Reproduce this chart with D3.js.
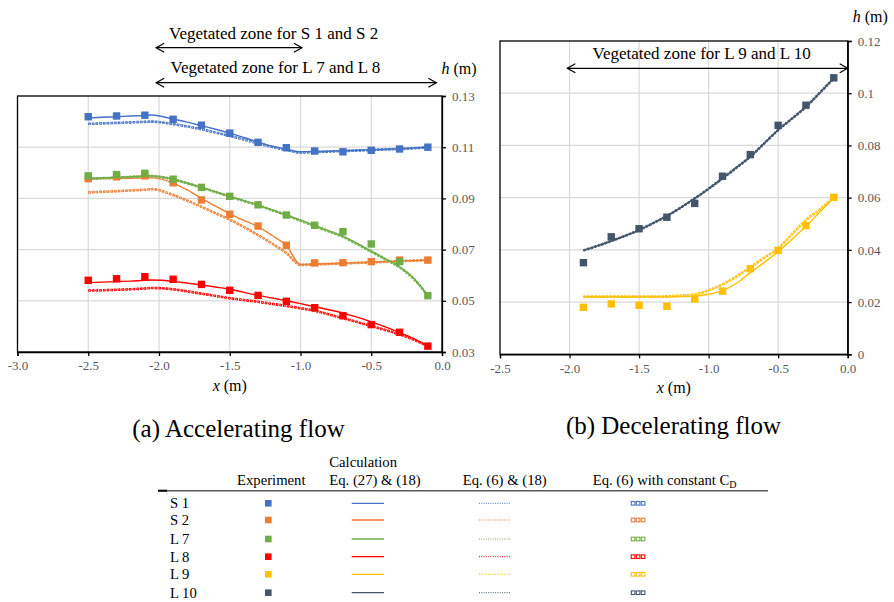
<!DOCTYPE html>
<html><head><meta charset="utf-8">
<script src="https://cdn.jsdelivr.net/npm/d3@7"></script>
<style>
html,body{margin:0;padding:0;background:#fff;}
svg text{font-family:"Liberation Serif","Times New Roman",serif;}
</style></head>
<body><svg id="c" width="894" height="602"></svg>
<script>
// ---------- DATA ----------
const seriesNames = ["S 1","S 2","L 7","L 8","L 9","L 10"];
const seriesColors = ["#4472C4","#ED7D31","#70AD47","#FF0000","#FFC000","#44546A"];

// (a) accelerating flow
const xTicksA = [-3.0,-2.5,-2.0,-1.5,-1.0,-0.5,0.0];
const yTicksA = [0.03,0.05,0.07,0.09,0.11,0.13];
const expXA = [-2.5,-2.3,-2.1,-1.9,-1.7,-1.5,-1.3,-1.1,-0.9,-0.7,-0.5,-0.3,-0.1];
const expS1 = [0.1219,0.1222,0.1225,0.1209,0.1186,0.1155,0.1119,0.1098,0.1085,0.1082,0.1088,0.1093,0.1100];
const expS2 = [0.0977,0.0984,0.0988,0.0961,0.0894,0.0838,0.0792,0.0717,0.0648,0.0649,0.0653,0.0659,0.0659];
const expL7 = [0.0988,0.0993,0.0998,0.0975,0.0943,0.0908,0.0875,0.0835,0.0795,0.0770,0.0722,0.0653,0.0520];
const expL8 = [0.0580,0.0586,0.0594,0.0584,0.0564,0.0541,0.0521,0.0498,0.0473,0.0442,0.0407,0.0377,0.0323];

const calcXA = [-2.5,-2.4,-2.3,-2.2,-2.1,-2.05,-1.9,-1.8,-1.7,-1.6,-1.5,-1.4,-1.3,-1.2,-1.1,-1.0,-0.9,-0.8,-0.7,-0.6,-0.5,-0.4,-0.3,-0.2,-0.1];
// Eq. (27) & (18)
const eq27S1 = [0.1214,0.1217,0.1219,0.1222,0.1224,0.1226,0.1210,0.1198,0.1184,0.1170,0.1155,0.1138,0.1120,0.1104,0.1092,0.1082,0.1083,0.1084,0.1086,0.1088,0.1090,0.1092,0.1094,0.1097,0.1099];
const eq27S2 = [0.0977,0.0978,0.0978,0.0979,0.0980,0.0980,0.0960,0.0933,0.0900,0.0870,0.0840,0.0814,0.0790,0.0755,0.0716,0.0642,0.0644,0.0645,0.0647,0.0649,0.0651,0.0653,0.0655,0.0657,0.0659];
const eq27L7 = [0.0978,0.0980,0.0982,0.0985,0.0987,0.0988,0.0975,0.0960,0.0943,0.0926,0.0908,0.0891,0.0874,0.0855,0.0835,0.0815,0.0794,0.0773,0.0752,0.0724,0.0694,0.0664,0.0633,0.0588,0.0520];
const eq27L8 = [0.0571,0.0573,0.0575,0.0577,0.0580,0.0581,0.0576,0.0569,0.0562,0.0554,0.0545,0.0533,0.0521,0.0511,0.0500,0.0489,0.0477,0.0465,0.0452,0.0436,0.0418,0.0398,0.0376,0.0352,0.0323];
// Eq. (6) & (18)
const eq6S1 = [0.1192,0.1193,0.1195,0.1197,0.1199,0.1200,0.1191,0.1182,0.1171,0.1158,0.1145,0.1131,0.1116,0.1102,0.1090,0.1080,0.1081,0.1083,0.1085,0.1087,0.1089,0.1091,0.1093,0.1096,0.1099];
const eq6S2 = [0.0924,0.0926,0.0929,0.0931,0.0934,0.0936,0.0914,0.0892,0.0868,0.0843,0.0818,0.0789,0.0758,0.0724,0.0688,0.0640,0.0642,0.0644,0.0646,0.0648,0.0650,0.0652,0.0655,0.0657,0.0659];
const eq6L7 = [0.0977,0.0979,0.0981,0.0984,0.0986,0.0987,0.0974,0.0959,0.0942,0.0925,0.0907,0.0890,0.0873,0.0854,0.0834,0.0813,0.0792,0.0771,0.0750,0.0722,0.0692,0.0662,0.0631,0.0586,0.0520];
const eq6L8 = [0.0540,0.0541,0.0543,0.0545,0.0548,0.0550,0.0545,0.0537,0.0528,0.0519,0.0510,0.0503,0.0496,0.0488,0.0480,0.0471,0.0461,0.0447,0.0432,0.0417,0.0402,0.0386,0.0369,0.0348,0.0323];
// Eq. (6) with constant CD
const cdS1 = [0.1191,0.1193,0.1195,0.1197,0.1199,0.1200,0.1190,0.1181,0.1170,0.1157,0.1144,0.1130,0.1115,0.1101,0.1089,0.1079,0.1081,0.1083,0.1085,0.1087,0.1089,0.1091,0.1093,0.1096,0.1099];
const cdS2 = [0.0923,0.0926,0.0928,0.0931,0.0934,0.0936,0.0913,0.0891,0.0867,0.0842,0.0817,0.0788,0.0757,0.0723,0.0687,0.0640,0.0642,0.0644,0.0646,0.0648,0.0650,0.0652,0.0655,0.0657,0.0659];
const cdL7 = [0.0977,0.0979,0.0981,0.0984,0.0986,0.0987,0.0974,0.0959,0.0942,0.0925,0.0907,0.0890,0.0873,0.0854,0.0834,0.0813,0.0792,0.0771,0.0750,0.0722,0.0692,0.0662,0.0631,0.0586,0.0520];
const cdL8 = [0.0540,0.0541,0.0543,0.0545,0.0548,0.0550,0.0545,0.0537,0.0528,0.0519,0.0510,0.0503,0.0496,0.0488,0.0480,0.0471,0.0461,0.0447,0.0432,0.0417,0.0402,0.0386,0.0369,0.0348,0.0323];

// (b) decelerating flow
const xTicksB = [-2.5,-2.0,-1.5,-1.0,-0.5,0.0];
const yTicksB = [0,0.02,0.04,0.06,0.08,0.1,0.12];
const expXB = [-1.9,-1.7,-1.5,-1.3,-1.1,-0.9,-0.7,-0.5,-0.3,-0.1];
const expL9  = [0.0180,0.0193,0.0188,0.0184,0.0212,0.0242,0.0328,0.0398,0.0493,0.0601];
const expL10 = [0.0351,0.0450,0.0481,0.0525,0.0578,0.0682,0.0765,0.0877,0.0954,0.1059];
const calcXB = [-1.9,-1.8,-1.7,-1.6,-1.5,-1.4,-1.3,-1.2,-1.1,-1.0,-0.9,-0.8,-0.7,-0.6,-0.5,-0.4,-0.3,-0.2,-0.1];
const eq27L9  = [0.0220,0.0220,0.0220,0.0220,0.0220,0.0220,0.0220,0.0221,0.0223,0.0230,0.0244,0.0272,0.0313,0.0352,0.0393,0.0441,0.0490,0.0545,0.0600];
const eq27L10 = [0.0398,0.0415,0.0434,0.0454,0.0476,0.0502,0.0530,0.0562,0.0597,0.0634,0.0674,0.0715,0.0757,0.0808,0.0859,0.0903,0.0948,0.1002,0.1057];
const eq6L9   = [0.0221,0.0221,0.0221,0.0221,0.0221,0.0221,0.0222,0.0225,0.0230,0.0245,0.0268,0.0298,0.0334,0.0370,0.0406,0.0460,0.0514,0.0555,0.0601];
const eq6L10  = [0.0398,0.0415,0.0434,0.0454,0.0476,0.0502,0.0530,0.0562,0.0597,0.0634,0.0674,0.0715,0.0757,0.0808,0.0859,0.0903,0.0948,0.1002,0.1057];
const cdL9    = [0.0221,0.0221,0.0221,0.0221,0.0221,0.0221,0.0222,0.0225,0.0230,0.0245,0.0268,0.0298,0.0334,0.0370,0.0406,0.0460,0.0514,0.0555,0.0601];
const cdL10   = [0.0398,0.0415,0.0434,0.0454,0.0476,0.0502,0.0530,0.0562,0.0597,0.0634,0.0674,0.0715,0.0757,0.0808,0.0859,0.0903,0.0948,0.1002,0.1057];

const legendHeaders = ["Experiment","Calculation","Eq. (27) & (18)","Eq. (6) & (18)","Eq. (6) with constant C"];

// ---------- DRAW ----------
const svg = d3.select("#c");
const GRID = "#d9d9d9", TICKTXT = "#595959";

function panel(opt){
  const g = svg.append("g");
  const x = d3.scaleLinear().domain(opt.xd).range(opt.xr);
  const y = d3.scaleLinear().domain(opt.yd).range(opt.yr);
  g.append("g").selectAll("line").data(opt.xt.slice(1,-1)).join("line")
    .attr("x1",d=>x(d)).attr("x2",d=>x(d)).attr("y1",opt.yr[0]).attr("y2",opt.yr[1])
    .attr("stroke",GRID).attr("stroke-width",1.2);
  g.append("g").selectAll("line").data(opt.yt.slice(1,-1)).join("line")
    .attr("y1",d=>y(d)).attr("y2",d=>y(d)).attr("x1",opt.xr[0]).attr("x2",opt.xr[1])
    .attr("stroke",GRID).attr("stroke-width",1.2);
  g.append("rect").attr("x",opt.xr[0]).attr("y",opt.yr[1])
    .attr("width",opt.xr[1]-opt.xr[0]).attr("height",opt.yr[0]-opt.yr[1])
    .attr("fill","none").attr("stroke","#000").attr("stroke-width",1.3);
  const ax = g.append("g").attr("transform",`translate(0,${opt.yr[0]})`)
    .call(d3.axisBottom(x).tickValues(opt.xt).tickSize(4).tickPadding(5).tickFormat(d=>d.toFixed(1)));
  const ay = g.append("g").attr("transform",`translate(${opt.xr[1]},0)`)
    .call(d3.axisRight(y).tickValues(opt.yt).tickSize(4).tickPadding(6).tickFormat(opt.yf));
  [ax,ay].forEach(a=>{
    a.select(".domain").attr("stroke","#000").attr("stroke-width",1.3);
    a.selectAll(".tick line").attr("stroke","#000").attr("stroke-width",1.3);
    a.selectAll(".tick text").attr("fill",TICKTXT).style("font-size","13px")
      .style("font-family","'Liberation Serif',serif");
  });
  return {g,x,y};
}

function drawSeries(p, xs, cd, eq6, eq27, color){
  const line = d3.line().x((d,i)=>p.x(xs[i])).y(d=>p.y(d)).curve(d3.curveMonotoneX);
  p.g.append("path").attr("d",line(cd)).attr("fill","none").attr("stroke",color)
    .attr("stroke-width",2.6).attr("stroke-dasharray","2.6 1.1");
  p.g.append("path").attr("d",line(cd)).attr("fill","none").attr("stroke","#fff")
    .attr("stroke-width",0.9).attr("stroke-dasharray","0.9 2.8").attr("stroke-dashoffset",-0.85);
  p.g.append("path").attr("d",line(eq6)).attr("fill","none").attr("stroke",color)
    .attr("stroke-width",1).attr("stroke-dasharray","1 1.2").attr("opacity",0.8);
  p.g.append("path").attr("d",line(eq27)).attr("fill","none").attr("stroke",color)
    .attr("stroke-width",1.4);
}
function drawExp(p, xs, ys, color){
  const s = 7.4;
  p.g.append("g").selectAll("rect").data(ys).join("rect")
    .attr("x",(d,i)=>p.x(xs[i])-s/2).attr("y",d=>p.y(d)-s/2)
    .attr("width",s).attr("height",s).attr("fill",color);
}

const pA = panel({xd:[-3,0], xr:[17.5,442], yd:[0.03,0.13], yr:[352,96],
  xt:xTicksA, yt:yTicksA, yf:d=>d.toFixed(2)});
const pB = panel({xd:[-2.5,0], xr:[500,847.7], yd:[0,0.12], yr:[354.3,41],
  xt:xTicksB, yt:yTicksB, yf:d=>String(+d.toFixed(2))});

drawSeries(pA, calcXA, cdS1, eq6S1, eq27S1, seriesColors[0]);
drawSeries(pA, calcXA, cdS2, eq6S2, eq27S2, seriesColors[1]);
drawSeries(pA, calcXA, cdL7, eq6L7, eq27L7, seriesColors[2]);
drawSeries(pA, calcXA, cdL8, eq6L8, eq27L8, seriesColors[3]);
drawExp(pA, expXA, expS1, seriesColors[0]);
drawExp(pA, expXA, expS2, seriesColors[1]);
drawExp(pA, expXA, expL7, seriesColors[2]);
drawExp(pA, expXA, expL8, seriesColors[3]);

drawSeries(pB, calcXB, cdL9, eq6L9, eq27L9, seriesColors[4]);
drawSeries(pB, calcXB, cdL10, eq6L10, eq27L10, seriesColors[5]);
drawExp(pB, expXB, expL9, seriesColors[4]);
drawExp(pB, expXB, expL10, seriesColors[5]);

function arrow(x1,x2,y){
  const g = svg.append("g").attr("stroke","#000").attr("fill","none").attr("stroke-width",1.2);
  g.append("line").attr("x1",x1).attr("x2",x2).attr("y1",y).attr("y2",y);
  g.append("path").attr("d",`M${x1+8},${y-4.5}L${x1},${y}L${x1+8},${y+4.5}`);
  g.append("path").attr("d",`M${x2-8},${y-4.5}L${x2},${y}L${x2-8},${y+4.5}`);
}
arrow(pA.x(-2.02), pA.x(-0.99), 47.7);
arrow(pA.x(-2.02), pA.x(-0.04), 82.7);
arrow(pB.x(-2.016), pB.x(0), 68.3);

function txt(x,y,s,size,anchor){
  return svg.append("text").attr("x",x).attr("y",y).attr("text-anchor",anchor||"start")
    .style("font-size",size+"px").attr("fill","#000").text(s);
}
txt(169,39,"Vegetated zone for S 1 and S 2",17);
txt(170.5,73.3,"Vegetated zone for L 7 and L 8",17);
txt(701.7,59,"Vegetated zone for L 9 and L 10",17,"middle");

function hm(x,y){
  const t = svg.append("text").attr("x",x).attr("y",y).style("font-size","16px");
  t.append("tspan").style("font-style","italic").text("h");
  t.append("tspan").text(" (m)");
}
hm(441.5,74); hm(852.7,22);
function xm(cx,y){
  const t = svg.append("text").attr("x",cx).attr("y",y).attr("text-anchor","middle").style("font-size","16px");
  t.append("tspan").style("font-style","italic").text("x");
  t.append("tspan").text(" (m)");
}
xm(pA.x(-1.5), 391); xm(pB.x(-1.25), 393);

txt(238.5,437,"(a) Accelerating flow",25,"middle");
txt(673.5,434,"(b) Decelerating flow",25,"middle");

// ---------- LEGEND TABLE ----------
const lg = svg.append("g");
lg.append("line").attr("x1",158).attr("x2",768).attr("y1",490.7).attr("y2",490.7)
  .attr("stroke","#595959").attr("stroke-width",1.6);
lg.append("line").attr("x1",158).attr("x2",167).attr("y1",490.7).attr("y2",490.7)
  .attr("stroke","#000").attr("stroke-width",2);
const hs = 14.7;
txt(237,485,legendHeaders[0],hs);
txt(329.3,466.7,legendHeaders[1],hs);
txt(329.3,485,legendHeaders[2],hs);
txt(462.7,485,legendHeaders[3],hs);
const cdT = txt(592.7,485,legendHeaders[4],hs);
cdT.append("tspan").attr("dy",3).style("font-size","10px").text("D");

const rowY = [503.3,520,539,556.7,574.3,592.7];
seriesNames.forEach((n,i)=>{
  const y = rowY[i], c = seriesColors[i];
  txt(170, y+5, n, hs);
  lg.append("rect").attr("x",268.3-3.3).attr("y",y-3.3).attr("width",6.6).attr("height",6.6).attr("fill",c);
  lg.append("line").attr("x1",351.7).attr("x2",384).attr("y1",y).attr("y2",y).attr("stroke",c).attr("stroke-width",1.3);
  lg.append("line").attr("x1",479).attr("x2",510).attr("y1",y).attr("y2",y).attr("stroke",c)
    .attr("stroke-width",1).attr("stroke-dasharray","1 1.3");
  [0,1,2].forEach(k=>{
    lg.append("rect").attr("x",631.3+k*5).attr("y",y-1.8).attr("width",3.6).attr("height",3.6)
      .attr("fill","#fff").attr("stroke",c).attr("stroke-width",1.1);
  });
});
</script></body></html>
